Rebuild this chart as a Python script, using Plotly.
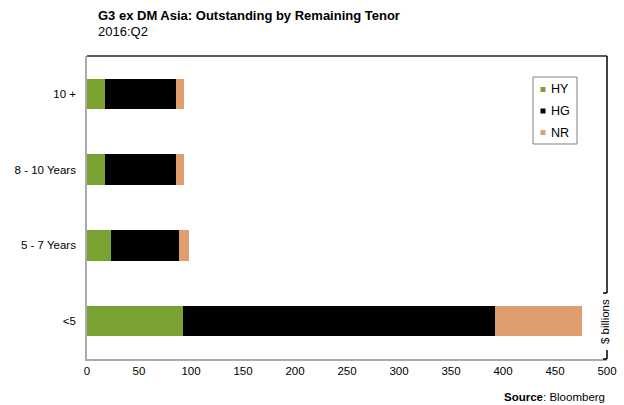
import plotly.graph_objects as go

categories = ["<5", "5 - 7 Years", "8 - 10 Years", "10 +"]
hy = [92, 23, 17, 17]
hg = [300, 65, 69, 69]
nr = [84, 10, 7, 7]
series_names = ["HY", "HG", "NR"]
series_colors = ["#79A232", "#000000", "#E09E6E"]
x_ticks = [0, 50, 100, 150, 200, 250, 300, 350, 400, 450, 500]

W, H = 624, 405
L, R, T, B = 87, 17, 56, 46
pw, ph = W - L - R, H - T - B

def px(x):
    return (x - L) / pw

def py(y):
    return (H - B - y) / ph

FONT = "Liberation Sans, Arial, sans-serif"

fig = go.Figure()
for name, vals, col in zip(series_names, [hy, hg, nr], series_colors):
    fig.add_trace(go.Bar(y=categories, x=vals, name=name, orientation="h",
                         marker=dict(color=col, line=dict(width=0)), showlegend=False))

fig.update_layout(
    template="none",
    width=W, height=H, autosize=False,
    margin=dict(l=L, r=R, t=T, b=B, pad=0),
    barmode="stack", bargap=0.6,
    paper_bgcolor="white", plot_bgcolor="white",
    font=dict(family=FONT, size=11.5, color="#000"),
    showlegend=False,
    xaxis=dict(range=[0, 500], tickvals=x_ticks, ticktext=[str(v) for v in x_ticks],
               automargin=False, showgrid=False, zeroline=False, showline=True,
               linecolor="#ABABAB", linewidth=1.5, ticks="", tickfont=dict(size=11.5)),
    yaxis=dict(range=[-0.5, 3.5], automargin=False, showgrid=False, zeroline=False,
               showline=True, linecolor="#ABABAB", linewidth=1.5, ticks="",
               ticklabelstandoff=7, tickfont=dict(size=11.5)),
)

shapes = [
    dict(type="line", xref="paper", yref="paper", x0=0, x1=1, y0=py(56), y1=py(56),
         line=dict(color="#5A5A5A", width=2)),
    dict(type="line", xref="paper", yref="paper", x0=1, x1=1, y0=py(56), y1=py(293),
         line=dict(color="#000", width=1.5)),
    dict(type="line", xref="paper", yref="paper", x0=1, x1=1, y0=py(350), y1=py(359),
         line=dict(color="#000", width=1.5)),
    dict(type="line", xref="paper", yref="paper", x0=px(603), x1=1, y0=py(293), y1=py(293),
         line=dict(color="#000", width=1.5)),
    dict(type="line", xref="paper", yref="paper", x0=px(603), x1=1, y0=py(359), y1=py(359),
         line=dict(color="#000", width=1.5)),
    # legend box
    dict(type="rect", xref="paper", yref="paper", x0=px(533), x1=px(577), y0=py(77), y1=py(144),
         line=dict(color="#808080", width=1), fillcolor="white"),
]
leg_y = [89.5, 111, 132.5]
for name, col, yc in zip(series_names, series_colors, leg_y):
    shapes.append(dict(type="rect", xref="paper", yref="paper",
                       x0=px(540.5), x1=px(545.5), y0=py(yc - 2.5), y1=py(yc + 2.5),
                       line=dict(width=0), fillcolor=col))
    fig.add_annotation(text=name, xref="paper", yref="paper", x=px(549), y=py(yc),
                       xanchor="left", yanchor="middle", showarrow=False,
                       font=dict(size=12.5, family=FONT))
fig.update_layout(shapes=shapes)

fig.add_annotation(text="<b>G3 ex DM Asia: Outstanding by Remaining Tenor</b>",
                   xref="paper", yref="paper", x=px(96), y=py(16), xanchor="left",
                   yanchor="middle", showarrow=False, font=dict(size=13, family=FONT))
fig.add_annotation(text="2016:Q2", xref="paper", yref="paper", x=px(96), y=py(31),
                   xanchor="left", yanchor="middle", showarrow=False,
                   font=dict(size=13, family=FONT))
fig.add_annotation(text="<b>Source</b>: Bloomberg", xref="paper", yref="paper",
                   x=px(607), y=py(397), xanchor="right", yanchor="middle",
                   showarrow=False, font=dict(size=11.5, family=FONT))
fig.add_annotation(text="$ billions", xref="paper", yref="paper", x=px(605), y=py(322),
                   xanchor="center", yanchor="middle", textangle=-90, showarrow=False,
                   font=dict(size=11.5, family=FONT))

fig.write_html("out.html", config={"displayModeBar": False},
               post_script="document.body.style.margin='0';")
